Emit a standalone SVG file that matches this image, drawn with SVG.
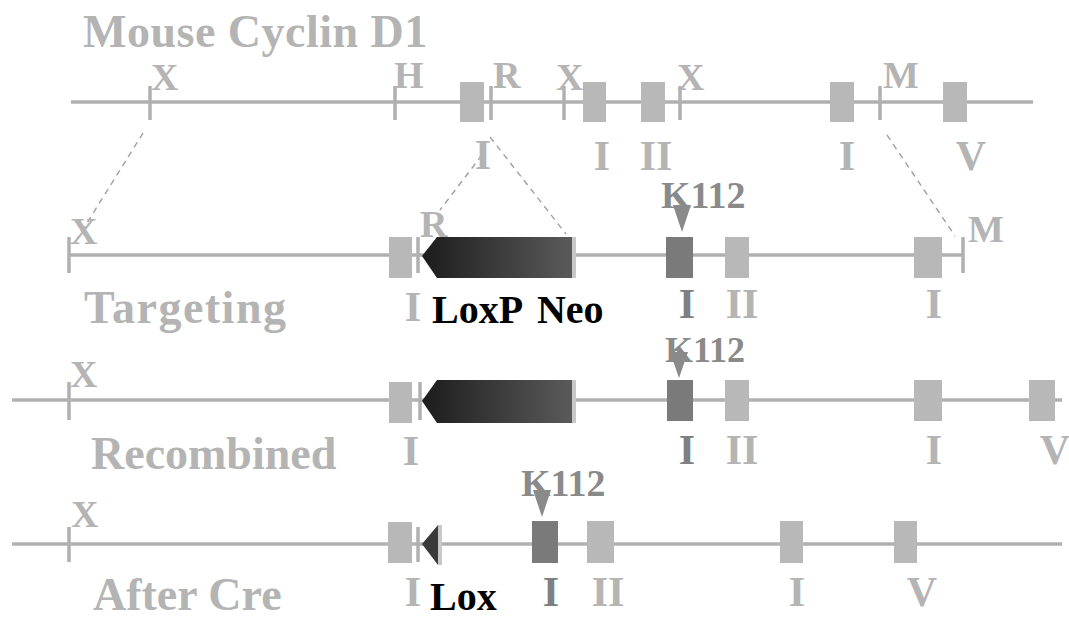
<svg xmlns="http://www.w3.org/2000/svg" width="1069" height="624" viewBox="0 0 1069 624">
<defs>
<linearGradient id="neo" x1="0" x2="1" y1="0" y2="0">
<stop offset="0" stop-color="#1c1c1c"/>
<stop offset="1" stop-color="#5a5a5a"/>
</linearGradient>
<style>
.ln{stroke:#b0b0b0;stroke-width:3.5;fill:none}
.tk{stroke:#b0b0b0;stroke-width:3.5}
.dash{stroke:#a0a0a0;stroke-width:1.4;stroke-dasharray:6 5;fill:none}
.ex{fill:#b8b8b8}
.exk{fill:#7a7a7a}
.t{font-family:"Liberation Serif","Times New Roman",serif;font-weight:bold;fill:#b4b4b4}
.big{font-size:46px}
.site{font-size:38px}
.num{font-size:42px;text-anchor:middle}
.dk{fill:#808080}
.b{font-family:"Liberation Serif","Times New Roman",serif;font-weight:bold;font-size:40px;fill:#000}
.k{font-family:"Liberation Serif","Times New Roman",serif;font-weight:bold;font-size:38px;fill:#8a8a8a}
.mk{fill:#8a8a8a}
</style>
</defs>
<rect width="1069" height="624" fill="#fff"/>
<text class="t big" x="83" y="47" letter-spacing="0.5">Mouse Cyclin D1</text>

<g id="connectors">
<line class="dash" x1="143" y1="133" x2="74" y2="244"/>
<line class="dash" x1="482" y1="155" x2="440" y2="210"/>
<line class="dash" x1="490" y1="137" x2="566" y2="234"/>
<line class="dash" x1="887" y1="135" x2="955" y2="236"/>
</g>

<g id="wildtype">
<line class="ln" x1="71" y1="102" x2="1033" y2="102"/>
<line class="tk" x1="150" y1="86" x2="150" y2="120"/>
<line class="tk" x1="395" y1="86" x2="395" y2="120"/>
<line class="tk" x1="491" y1="86" x2="491" y2="120"/>
<line class="tk" x1="564" y1="86" x2="564" y2="120"/>
<line class="tk" x1="680" y1="86" x2="680" y2="120"/>
<line class="tk" x1="880" y1="86" x2="880" y2="120"/>
<rect class="ex" x="460" y="82" width="24" height="40"/>
<rect class="ex" x="583" y="82" width="23" height="40"/>
<rect class="ex" x="641" y="82" width="24" height="40"/>
<rect class="ex" x="830" y="82" width="24" height="40"/>
<rect class="ex" x="943" y="82" width="24" height="40"/>
<text class="t site" x="151" y="90">X</text>
<text class="t site" x="394" y="88">H</text>
<text class="t site" x="493" y="88">R</text>
<text class="t site" x="556" y="90">X</text>
<text class="t site" x="677" y="90">X</text>
<text class="t site" x="883" y="88">M</text>
<text class="t num" x="483" y="169">I</text>
<text class="t num" x="602" y="170">I</text>
<text class="t num" x="656" y="170">II</text>
<text class="t num" x="847" y="170">I</text>
<text class="t num" x="971" y="170">V</text>
</g>

<g id="targeting">
<line class="ln" x1="69" y1="255" x2="963" y2="255"/>
<line class="tk" x1="69" y1="237" x2="69" y2="273"/>
<line class="tk" x1="418" y1="237" x2="418" y2="273"/>
<line class="tk" x1="963" y1="237" x2="963" y2="273"/>
<rect class="ex" x="389" y="237" width="23" height="41"/>
<polygon points="422,256 437,237 572,237 572,278 437,278" fill="url(#neo)"/>
<rect x="572" y="237" width="4" height="41" fill="#c8c8c8"/>
<rect class="exk" x="666" y="237" width="27" height="41"/>
<rect class="ex" x="725" y="237" width="24" height="41"/>
<rect class="ex" x="914" y="237" width="28" height="41"/>
<polygon class="mk" points="673,205 691,205 682,232"/>
<text class="k" x="661" y="208">K112</text>
<text class="t site" x="70" y="244">X</text>
<text class="t site" x="420" y="237">R</text>
<text class="t site" x="968" y="242">M</text>
<text class="t big" x="84" y="323" letter-spacing="1.5">Targeting</text>
<text class="t num" x="413" y="321">I</text>
<text class="b" x="432" y="323" word-spacing="6">LoxP Neo</text>
<text class="t num dk" x="687" y="318">I</text>
<text class="t num" x="742" y="318">II</text>
<text class="t num" x="934" y="318">I</text>
</g>

<g id="recombined">
<line class="ln" x1="12" y1="400" x2="1062" y2="400"/>
<line class="tk" x1="69" y1="382" x2="69" y2="420"/>
<line class="tk" x1="420" y1="382" x2="420" y2="420"/>
<rect class="ex" x="389" y="382" width="23" height="41"/>
<polygon points="422,401 437,380 572,380 572,423 437,423" fill="url(#neo)"/>
<rect x="572" y="380" width="4" height="43" fill="#c8c8c8"/>
<rect class="exk" x="667" y="380" width="26" height="41"/>
<rect class="ex" x="725" y="380" width="24" height="41"/>
<rect class="ex" x="914" y="380" width="28" height="41"/>
<rect class="ex" x="1029" y="380" width="26" height="41"/>
<polygon class="mk" points="670,352 688,352 679,378"/>
<text class="k" x="665" y="362" style="font-size:36px">K112</text>
<text class="t site" x="70" y="387">X</text>
<text class="t big" x="91" y="469">Recombined</text>
<text class="t num" x="411" y="465">I</text>
<text class="t num dk" x="687" y="464">I</text>
<text class="t num" x="742" y="464">II</text>
<text class="t num" x="934" y="464">I</text>
<text class="t num" x="1055" y="464">V</text>
</g>

<g id="aftercre">
<line class="ln" x1="12" y1="544" x2="1062" y2="544"/>
<line class="tk" x1="69" y1="527" x2="69" y2="562"/>
<line class="tk" x1="418" y1="527" x2="418" y2="562"/>
<rect class="ex" x="388" y="522" width="24" height="41"/>
<polygon points="422,544 438,525 438,565" fill="#3a3a3a"/>
<rect x="438" y="525" width="4" height="40" fill="#c8c8c8"/>
<rect class="exk" x="532" y="521" width="26" height="42"/>
<rect class="ex" x="587" y="521" width="27" height="42"/>
<rect class="ex" x="780" y="521" width="23" height="42"/>
<rect class="ex" x="894" y="521" width="23" height="42"/>
<polygon class="mk" points="533,490 551,490 542,517"/>
<text class="k" x="521" y="496">K112</text>
<text class="t site" x="71" y="527">X</text>
<text class="t big" x="93" y="610">After Cre</text>
<text class="t num" x="413" y="606">I</text>
<text class="b" x="430" y="610">Lox</text>
<text class="t num dk" x="551" y="606">I</text>
<text class="t num" x="608" y="606">II</text>
<text class="t num" x="797" y="606">I</text>
<text class="t num" x="922" y="606">V</text>
</g>
</svg>
